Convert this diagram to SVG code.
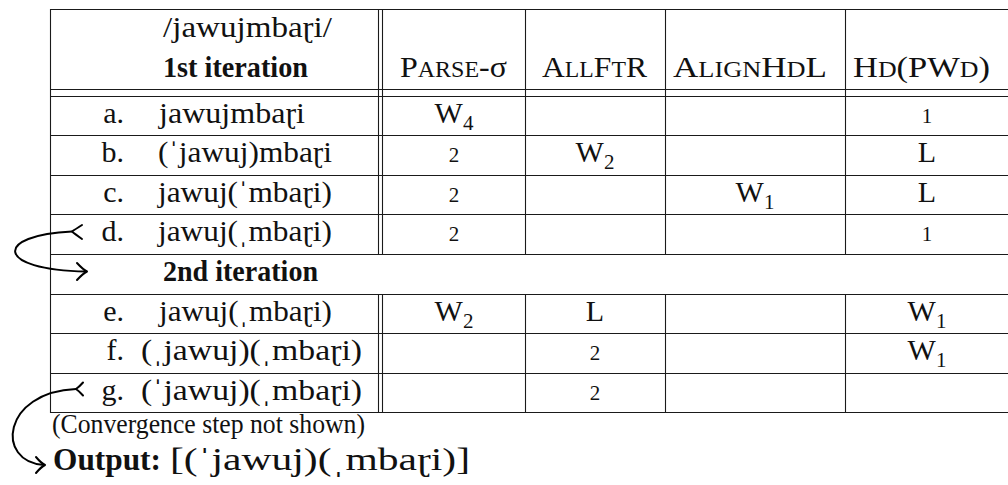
<svg xmlns="http://www.w3.org/2000/svg" width="1008" height="485" viewBox="0 0 1008 485">
<style>
  .t { font-family: "Liberation Serif", "DejaVu Serif", serif; font-size: 30px; fill: #111; }
  .b { font-weight: bold; }
  .sm { font-size: 21px; }
  .sc { font-size: 22.5px; }
  .c { text-anchor: middle; }
  .e { text-anchor: end; }
  .ln { stroke: #1a1a1a; stroke-width: 1.1; fill: none; }
  .arr { stroke: #000; stroke-width: 2; fill: none; stroke-linecap: round; stroke-linejoin: round; }
</style>
<rect width="1008" height="485" fill="#fff"/>

<g id="grid">
  <line class="ln" x1="50" y1="9.5" x2="1010" y2="9.5"/>
  <line class="ln" x1="50" y1="89.5" x2="1010" y2="89.5"/>
  <line class="ln" x1="50" y1="96.5" x2="1010" y2="96.5"/>
  <line class="ln" x1="50" y1="135.5" x2="1010" y2="135.5"/>
  <line class="ln" x1="50" y1="175.5" x2="1010" y2="175.5"/>
  <line class="ln" x1="50" y1="214.5" x2="1010" y2="214.5"/>
  <line class="ln" x1="50" y1="254.5" x2="1010" y2="254.5"/>
  <line class="ln" x1="50" y1="294.5" x2="1010" y2="294.5"/>
  <line class="ln" x1="50" y1="333.5" x2="1010" y2="333.5"/>
  <line class="ln" x1="50" y1="373.5" x2="1010" y2="373.5"/>
  <line class="ln" x1="50" y1="412.5" x2="1010" y2="412.5"/>
  <line class="ln" x1="50.5" y1="9" x2="50.5" y2="413"/>
  <line class="ln" x1="378.5" y1="9" x2="378.5" y2="254.5"/>
  <line class="ln" x1="382.5" y1="9" x2="382.5" y2="254.5"/>
  <line class="ln" x1="525.5" y1="9" x2="525.5" y2="254.5"/>
  <line class="ln" x1="665.5" y1="9" x2="665.5" y2="254.5"/>
  <line class="ln" x1="845.5" y1="9" x2="845.5" y2="254.5"/>
  <line class="ln" x1="378.5" y1="294.5" x2="378.5" y2="413"/>
  <line class="ln" x1="382.5" y1="294.5" x2="382.5" y2="413"/>
  <line class="ln" x1="525.5" y1="294.5" x2="525.5" y2="413"/>
  <line class="ln" x1="665.5" y1="294.5" x2="665.5" y2="413"/>
  <line class="ln" x1="845.5" y1="294.5" x2="845.5" y2="413"/>
</g>

<g id="header">
  <text class="t" x="163" y="37" textLength="169" lengthAdjust="spacingAndGlyphs">/jawujmbaɽi/</text>
  <text class="t b" x="163" y="77" textLength="145" lengthAdjust="spacingAndGlyphs">1st iteration</text>
  <text class="t" x="400" y="77" textLength="107" lengthAdjust="spacingAndGlyphs">P<tspan class="sc">ARSE</tspan>-σ</text>
  <text class="t" x="542" y="77" textLength="105" lengthAdjust="spacingAndGlyphs">A<tspan class="sc">LL</tspan>F<tspan class="sc">T</tspan>R</text>
  <text class="t" x="673" y="77" textLength="154" lengthAdjust="spacingAndGlyphs">A<tspan class="sc">LIGN</tspan>H<tspan class="sc">D</tspan>L</text>
  <text class="t" x="853" y="77" textLength="137" lengthAdjust="spacingAndGlyphs">H<tspan class="sc">D</tspan>(PW<tspan class="sc">D</tspan>)</text>
</g>

<g id="row-a">
  <text class="t e" x="124" y="123">a.</text>
  <text class="t" x="159" y="123" textLength="146" lengthAdjust="spacingAndGlyphs">jawujmbaɽi</text>
  <text class="t c" x="454" y="123">W<tspan class="sm" dy="7">4</tspan></text>
  <text class="t sm c" x="927" y="123">1</text>
</g>
<g id="row-b">
  <text class="t e" x="124" y="162">b.</text>
  <text class="t" x="158" y="162" textLength="174" lengthAdjust="spacingAndGlyphs">(ˈjawuj)mbaɽi</text>
  <text class="t sm c" x="454" y="162">2</text>
  <text class="t c" x="595" y="162">W<tspan class="sm" dy="7">2</tspan></text>
  <text class="t c" x="927" y="162">L</text>
</g>
<g id="row-c">
  <text class="t e" x="124" y="201.5">c.</text>
  <text class="t" x="158" y="201.5" textLength="174" lengthAdjust="spacingAndGlyphs">jawuj(ˈmbaɽi)</text>
  <text class="t sm c" x="454" y="201.5">2</text>
  <text class="t c" x="755" y="201.5">W<tspan class="sm" dy="7">1</tspan></text>
  <text class="t c" x="927" y="201.5">L</text>
</g>
<g id="row-d">
  <text class="t e" x="124" y="241">d.</text>
  <text class="t" x="158" y="241" textLength="174" lengthAdjust="spacingAndGlyphs">jawuj(ˌmbaɽi)</text>
  <text class="t sm c" x="454" y="241">2</text>
  <text class="t sm c" x="927" y="241">1</text>
</g>
<g id="row-2nd">
  <text class="t b" x="163" y="281" textLength="155" lengthAdjust="spacingAndGlyphs">2nd iteration</text>
</g>
<g id="row-e">
  <text class="t e" x="124" y="320.5">e.</text>
  <text class="t" x="159" y="320.5" textLength="173" lengthAdjust="spacingAndGlyphs">jawuj(ˌmbaɽi)</text>
  <text class="t c" x="454" y="320.5">W<tspan class="sm" dy="7">2</tspan></text>
  <text class="t c" x="595" y="320.5">L</text>
  <text class="t c" x="927" y="320.5">W<tspan class="sm" dy="7">1</tspan></text>
</g>
<g id="row-f">
  <text class="t e" x="124" y="360">f.</text>
  <text class="t" x="141" y="360" textLength="221" lengthAdjust="spacingAndGlyphs">(ˌjawuj)(ˌmbaɽi)</text>
  <text class="t sm c" x="595" y="360">2</text>
  <text class="t c" x="927" y="360">W<tspan class="sm" dy="7">1</tspan></text>
</g>
<g id="row-g">
  <text class="t e" x="124" y="399.5">g.</text>
  <text class="t" x="141" y="399.5" textLength="221" lengthAdjust="spacingAndGlyphs">(ˈjawuj)(ˌmbaɽi)</text>
  <text class="t sm c" x="595" y="399.5">2</text>
</g>

<g id="notes">
  <text class="t" x="52" y="433" style="font-size:27px" textLength="313" lengthAdjust="spacingAndGlyphs">(Convergence step not shown)</text>
  <text class="t b" x="53" y="470" style="font-size:31px" textLength="108" lengthAdjust="spacingAndGlyphs">Output:</text>
  <text class="t" x="170" y="470" style="font-size:32px" textLength="300" lengthAdjust="spacingAndGlyphs">[(ˈjawuj)(ˌmbaɽi)]</text>
</g>

<g id="connectors">
  <path class="arr" d="M72,231.5 C-6,235 -6,270 86,271.5"/>
  <path class="arr" d="M82,225 Q75,229.5 72,231.5 Q75,234 82,239"/>
  <path class="arr" d="M77,263 Q83,269.5 87,271.5 Q83,273.5 77,280"/>
  <path class="arr" d="M76,389 C2,392 -5,462 44,465"/>
  <path class="arr" d="M83,382.5 Q79,387 76,389 Q79,391 83,395.5"/>
  <path class="arr" d="M36,457 Q41,463 45,465 Q41,467 36,473"/>
</g>
</svg>
